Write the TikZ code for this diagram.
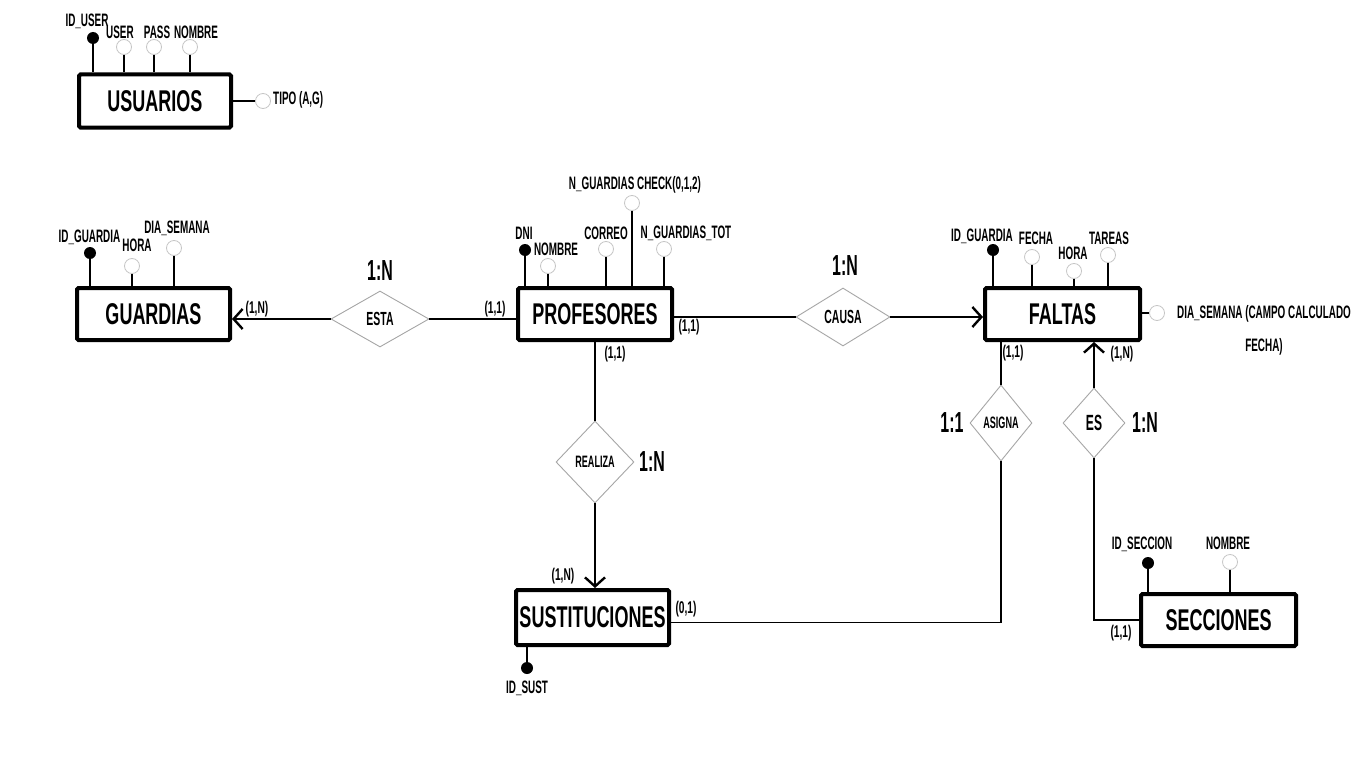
\documentclass[tikz,border=0pt]{standalone}
\usepackage{fontspec}
\setmainfont[FakeStretch=0.66]{Liberation Sans}
\newfontfamily\lblfont[FakeStretch=0.55]{Liberation Sans}
\newfontfamily\cardfont[FakeStretch=0.6]{Liberation Sans}
\newfontfamily\ttlfont[FakeStretch=0.6]{Liberation Sans}
\usetikzlibrary{shapes.geometric,arrows.meta}
\begin{document}
\begin{tikzpicture}[x=1pt,y=-1pt,
  entity/.style={draw, line width=4pt, rounded corners=1.5pt, minimum height=52, inner sep=0, font=\ttlfont\fontsize{30}{33}\selectfont\bfseries},
  attlbl/.style={font=\lblfont\fontsize{18}{20}\selectfont\bfseries, inner sep=0},
  card/.style={font=\cardfont\fontsize{17}{19}\selectfont\bfseries, inner sep=0},
  big/.style={font=\lblfont\fontsize{29}{32}\selectfont\bfseries, inner sep=0},
  rel/.style={diamond, draw=gray!70, line width=0.9pt, inner sep=0, font=\lblfont\fontsize{19}{21}\selectfont\bfseries},
  keyat/.style={circle, fill=black, inner sep=0, minimum size=12},
  attr/.style={circle, draw=gray!45, line width=0.8pt, fill=white, inner sep=0, minimum size=15},
  link/.style={line width=1.2pt},
  arr/.style={link, -{Straight Barb[length=9pt,width=20pt,line width=2.4pt]}}
]
\useasboundingbox[fill=white] (0,0) rectangle (1366,768);

% USUARIOS
\node[entity, minimum width=152, minimum height=53] (usu) at (155,101) {USUARIOS};
\node[keyat] (u1) at (93,38) {};
\node[attr] (u2) at (124,47) {};
\node[attr] (u3) at (154,47) {};
\node[attr] (u4) at (190,47) {};
\node[attr] (u5) at (263,101) {};
\node[attlbl] (lu1) at (87,21) {ID\_USER};
\node[attlbl] (lu2) at (120,32) {USER};
\node[attlbl] (lu3) at (157,32) {PASS};
\node[attlbl] (lu4) at (196,32) {NOMBRE};
\node[attlbl, anchor=west] (lu5) at (273,100) {TIPO (A,G)};
\foreach \a in {u1,u2,u3,u4} \draw[link] (\a) -- (\a |- usu.north);
\draw[link] (usu.east) -- (u5);

% GUARDIAS
\node[entity, minimum width=153] (gua) at (153.5,314) {GUARDIAS};
\node[keyat] (g1) at (90,253) {};
\node[attr] (g2) at (132,266) {};
\node[attr] (g3) at (174,248) {};
\node[attlbl] (lg1) at (89.5,237) {ID\_GUARDIA};
\node[attlbl] (lg2) at (137,245) {HORA};
\node[attlbl] (lg3) at (177,228) {DIA\_SEMANA};
\foreach \a in {g1,g2,g3} \draw[link] (\a) -- (\a |- gua.north);

% PROFESORES
\node[entity, minimum width=154] (pro) at (595,314) {PROFESORES};
\node[keyat] (p1) at (525,250) {};
\node[attr] (p2) at (548,266) {};
\node[attr] (p3) at (606,249) {};
\node[attr] (p4) at (632,203) {};
\node[attr] (p5) at (664,249) {};
\node[attlbl] (lp1) at (524,233) {DNI};
\node[attlbl] (lp2) at (556,249) {NOMBRE};
\node[attlbl] (lp3) at (606,233) {CORREO};
\node[attlbl] (lp4) at (635,185) {N\_GUARDIAS CHECK(0,1,2)};
\node[attlbl] (lp5) at (686,233) {N\_GUARDIAS\_TOT};
\foreach \a in {p1,p2,p3,p4,p5} \draw[link] (\a) -- (\a |- pro.north);

% FALTAS
\node[entity, minimum width=155] (fal) at (1062.5,314) {FALTAS};
\node[keyat] (f1) at (993,250) {};
\node[attr] (f2) at (1032,257) {};
\node[attr] (f3) at (1074,271) {};
\node[attr] (f4) at (1108,255) {};
\node[attr] (f5) at (1157,313) {};
\node[attlbl] (lf1) at (982,236) {ID\_GUARDIA};
\node[attlbl] (lf2) at (1036,238) {FECHA};
\node[attlbl] (lf3) at (1073,253) {HORA};
\node[attlbl] (lf4) at (1109,238) {TAREAS};
\node[attlbl, align=center, font=\lblfont\fontsize{18}{33}\selectfont\bfseries] (lf5) at (1264,330) {DIA\_SEMANA (CAMPO CALCULADO\\FECHA)};
\foreach \a in {f1,f2,f3,f4} \draw[link] (\a) -- (\a |- fal.north);
\draw[link] (fal.east |- f5) -- (f5);

% SUSTITUCIONES
\node[entity, minimum width=153, minimum height=55] (sus) at (592.5,617.5) {SUSTITUCIONES};
\node[keyat] (s1) at (527,668) {};
\node[attlbl] (ls1) at (527,688) {ID\_SUST};
\draw[link] (s1) -- (s1 |- sus.south);

% SECCIONES
\node[entity, minimum width=155] (sec) at (1218.5,620) {SECCIONES};
\node[keyat] (c1) at (1148,563) {};
\node[attr] (c2) at (1230,562) {};
\node[attlbl] (lc1) at (1142,544) {ID\_SECCION};
\node[attlbl] (lc2) at (1228,543) {NOMBRE};
\foreach \a in {c1,c2} \draw[link] (\a) -- (\a |- sec.north);

% Relationships
\node[rel, minimum width=98, minimum height=56] (esta) at (380,319) {ESTA};
\node[rel, minimum width=94, minimum height=58] (cau) at (843,317) {CAUSA};
\node[rel, minimum width=78, minimum height=82, font=\lblfont\fontsize{16.5}{18}\selectfont\bfseries] (rea) at (595,462) {REALIZA};
\node[rel, minimum width=62, minimum height=76, font=\lblfont\fontsize{16.5}{18}\selectfont\bfseries] (asg) at (1001,423) {ASIGNA};
\node[rel, minimum width=62, minimum height=70, font=\lblfont\fontsize{22}{24}\selectfont\bfseries] (es) at (1094,423) {ES};

\node[big] (k1) at (380,271) {1:N};
\node[big] (k2) at (845,266) {1:N};
\node[big] (k3) at (652,462) {1:N};
\node[big] (k4) at (952,423) {1:1};
\node[big] (k5) at (1145,423) {1:N};

% Connectors
\draw[arr] (esta.west) -- (esta.west -| gua.east);
\draw[link] (esta.east) -- (esta.east -| pro.west);
\draw[link] (cau.west -| pro.east) -- (cau.west);
\draw[arr] (cau.east) -- (cau.east -| fal.west);
\draw[link] (pro.south) -- (rea.north);
\draw[arr] (rea.south) -- (rea.south |- sus.north);
\draw[link] (asg.north) -- (asg.north |- fal.south);
\draw[link] (asg.south) |- ([yshift=-5pt]sus.east);
\draw[arr] (es.north) -- (es.north |- fal.south);
\draw[link] (es.south) |- (sec.west);

% Cardinalities
\node[card] (c01) at (257,309) {(1,N)};
\node[card] (c02) at (495,309) {(1,1)};
\node[card] (c03) at (689,327) {(1,1)};
\node[card] (c04) at (615,354) {(1,1)};
\node[card] (c05) at (1013,353) {(1,1)};
\node[card] (c06) at (1122,354) {(1,N)};
\node[card] (c07) at (563,576) {(1,N)};
\node[card] (c08) at (686,609) {(0,1)};
\node[card] (c09) at (1121,633) {(1,1)};
\end{tikzpicture}
\end{document}
